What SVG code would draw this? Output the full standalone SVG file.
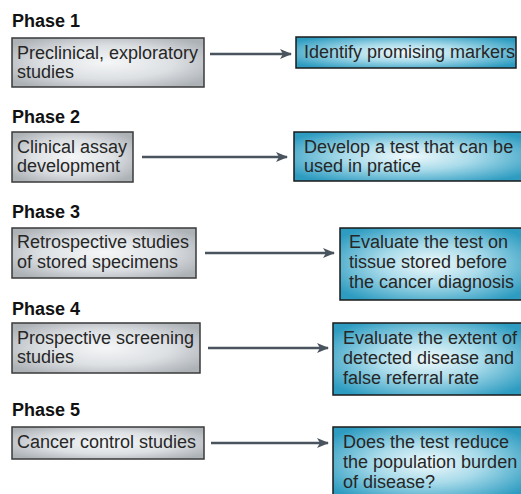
<svg xmlns="http://www.w3.org/2000/svg" width="521" height="494" viewBox="0 0 521 494">
<defs>
<radialGradient id="gGrey" cx="0.5" cy="0.5" r="0.62">
<stop offset="0" stop-color="#f4f6f7"/>
<stop offset="0.55" stop-color="#dde0e3"/>
<stop offset="1" stop-color="#adb2b7"/>
</radialGradient>
<radialGradient id="gBlue" cx="0.5" cy="0.5" r="0.62">
<stop offset="0" stop-color="#f0f9fb"/>
<stop offset="0.45" stop-color="#a9dbea"/>
<stop offset="1" stop-color="#2e9cc1"/>
</radialGradient>
<marker id="arr" markerWidth="12" markerHeight="10" refX="11" refY="5" orient="auto" markerUnits="userSpaceOnUse">
<path d="M0,0 L12,5 L0,10 L3,5 Z" fill="#4a545e"/>
</marker>
</defs>
<style>
.phase{font-family:"Liberation Sans",Arial,sans-serif;font-weight:bold;font-size:18px;fill:#111;}
.t{font-family:"Liberation Sans",Arial,sans-serif;font-size:18px;fill:#262626;}
.grey{fill:url(#gGrey);stroke:#3a3a3a;stroke-width:1.5;}
.blue{fill:url(#gBlue);stroke:#1a1a1a;stroke-width:1.5;}
.conn{stroke:#4a545e;stroke-width:2.5;fill:none;marker-end:url(#arr);}
</style>
<rect width="521" height="494" fill="#ffffff"/>
<text class="phase" x="12" y="27">Phase 1</text>
<text class="phase" x="12" y="123">Phase 2</text>
<text class="phase" x="12" y="218">Phase 3</text>
<text class="phase" x="12" y="315">Phase 4</text>
<text class="phase" x="12" y="416">Phase 5</text>

<g id="p1a"><rect class="grey" x="12" y="38" width="192" height="49"/>
<text class="t" x="17" y="59">Preclinical, exploratory</text><text class="t" x="17" y="78">studies</text></g>
<g id="p1b"><rect class="blue" x="296" y="37" width="220" height="31"/>
<text class="t" x="304" y="58">Identify promising markers</text></g>

<g id="p2a"><rect class="grey" x="12" y="132" width="121" height="50"/>
<text class="t" x="17" y="153">Clinical assay</text><text class="t" x="17" y="172">development</text></g>
<g id="p2b"><rect class="blue" x="294" y="132" width="230" height="49"/>
<text class="t" x="304" y="153">Develop a test that can be</text><text class="t" x="304" y="172">used in pratice</text></g>

<g id="p3a"><rect class="grey" x="12" y="228" width="184" height="50"/>
<text class="t" x="17" y="248">Retrospective studies</text><text class="t" x="17" y="268">of stored specimens</text></g>
<g id="p3b"><rect class="blue" x="340" y="228" width="184" height="72"/>
<text class="t" x="349" y="248">Evaluate the test on</text><text class="t" x="349" y="268">tissue stored before</text><text class="t" x="349" y="288">the cancer diagnosis</text></g>

<g id="p4a"><rect class="grey" x="12" y="323" width="188" height="50"/>
<text class="t" x="17" y="344">Prospective screening</text><text class="t" x="17" y="363">studies</text></g>
<g id="p4b"><rect class="blue" x="333" y="323" width="191" height="72"/>
<text class="t" x="343" y="344">Evaluate the extent of</text><text class="t" x="343" y="364">detected disease and</text><text class="t" x="343" y="384">false referral rate</text></g>

<g id="p5a"><rect class="grey" x="12" y="427" width="192" height="32"/>
<text class="t" x="17" y="448">Cancer control studies</text></g>
<g id="p5b"><rect class="blue" x="333" y="427" width="191" height="72"/>
<text class="t" x="343" y="448">Does the test reduce</text><text class="t" x="343" y="468">the population burden</text><text class="t" x="343" y="488">of disease?</text></g>

<g id="connectors">
<line class="conn" x1="210" y1="54" x2="291" y2="54"/>
<line class="conn" x1="142" y1="157" x2="287" y2="157"/>
<line class="conn" x1="205" y1="253" x2="334" y2="253"/>
<line class="conn" x1="208" y1="348" x2="328" y2="348"/>
<line class="conn" x1="211" y1="443" x2="328" y2="443"/>
</g>
</svg>
